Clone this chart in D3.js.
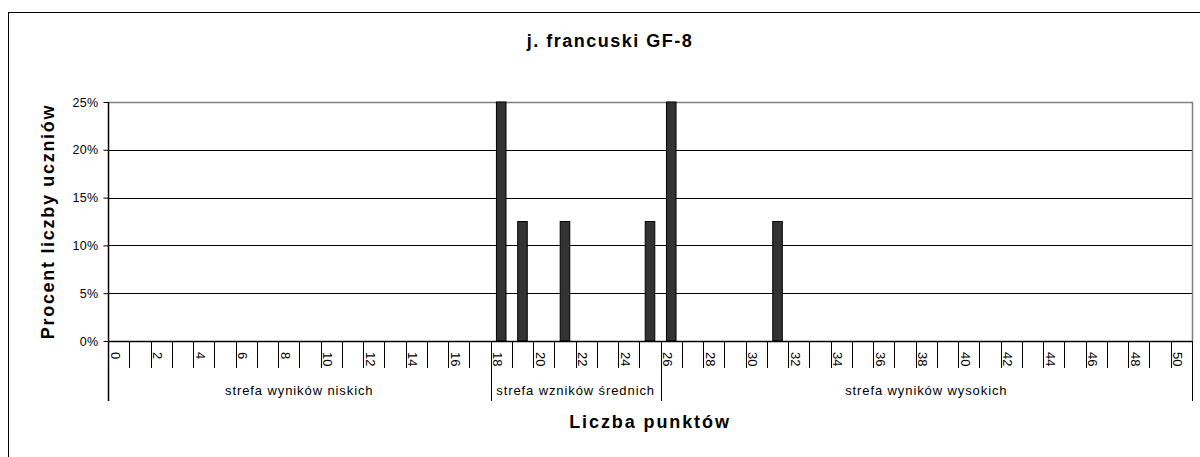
<!DOCTYPE html>
<html>
<head>
<meta charset="utf-8">
<script src="https://cdn.jsdelivr.net/npm/d3@7"></script>
<style>
  body { margin: 0; background: #fff; }
  svg { display: block; font-family: "Liberation Sans", Arial, sans-serif; }
</style>
</head>
<body>
<div id="chart-area"></div>
<script>
// Data
var points = ["0","1","2","3","4","5","6","7","8","9","10","11","12","13","14","15","16","17","18","19",
    "20","21","22","23","24","25","26","27","28","29","30","31","32","33","34","35","36","37","38","39",
    "40","41","42","43","44","45","46","47","48","49","50"];
var percents = [0,0,0,0,0,0,0,0,0,0, 0,0,0,0,0,0,0,0,25,12.5,
    0,12.5,0,0,0,12.5,25,0,0,0, 0,12.5,0,0,0,0,0,0,0,0,
    0,0,0,0,0,0,0,0,0,0, 0];
var yTicks = [0, 5, 10, 15, 20, 25];
var zoneNames = ["strefa wyników niskich", "strefa wzników średnich", "strefa wyników wysokich"];
var zoneStart = ["0", "18", "26"];
var zoneEnd = ["17", "25", "50"];

var width = 1200, height = 457;
var margin = { left: 108, right: 8, top: 102, bottom: 116 };

var svg = d3.select("#chart-area")
    .append("svg")
        .attr("width", width)
        .attr("height", height);

// outer frame
svg.append("rect")
    .attr("x", 8.5)
    .attr("y", 12.5)
    .attr("width", width)
    .attr("height", height)
    .attr("fill", "none")
    .attr("stroke", "#000");

// Scales
var x = d3.scaleBand()
    .domain(points)
    .range([margin.left, width - margin.right])
    .padding(0);
var y = d3.scaleLinear()
    .domain([0, 25])
    .range([height - margin.bottom, margin.top]);

var x0 = margin.left, x1 = width - margin.right;
var yBase = y(0);

// Title
svg.append("text")
    .attr("x", 610)
    .attr("y", 47)
    .attr("text-anchor", "middle")
    .attr("font-size", "18px")
    .attr("font-weight", "bold")
    .attr("letter-spacing", "1.5px")
    .text("j. francuski GF-8");

// Gridlines
svg.append("g").selectAll("line")
    .data(yTicks.filter(function(d){ return d > 0 && d < 25; }))
    .enter().append("line")
        .attr("x1", x0).attr("x2", x1)
        .attr("y1", function(d){ return Math.round(y(d)) + 0.5; })
        .attr("y2", function(d){ return Math.round(y(d)) + 0.5; })
        .attr("stroke", "#000");

// plot border (grey top and right)
svg.append("path")
    .attr("d", "M" + x0 + "," + (y(25) + 0.5) + "H" + (x1 + 0.5) + "V" + yBase)
    .attr("fill", "none")
    .attr("stroke", "#808080")
    .attr("stroke-width", 1.5);

// Bars
var barW = x.bandwidth() * 0.45;
svg.append("g").selectAll("rect")
    .data(percents.map(function(v, i){ return { p: points[i], v: v }; })
        .filter(function(d){ return d.v > 0; }))
    .enter().append("rect")
        .attr("x", function(d){ return x(d.p) + (x.bandwidth() - barW) / 2; })
        .attr("y", function(d){ return y(d.v); })
        .attr("width", barW)
        .attr("height", function(d){ return yBase - y(d.v); })
        .attr("fill", "#333")
        .attr("stroke", "#000")
        .attr("stroke-width", 1);

// Y Axis
var yAxisCall = d3.axisLeft(y)
    .tickValues(yTicks)
    .tickSize(5)
    .tickFormat(function(d){ return d + "%"; });
var yAxis = svg.append("g")
    .attr("transform", "translate(" + (x0 + 0.5) + ",0)")
    .call(yAxisCall);
yAxis.select(".domain").remove();
yAxis.selectAll("line").attr("stroke", "#000");
yAxis.selectAll("text")
    .attr("font-size", "12.5px")
    .attr("letter-spacing", "0.3px")
    .attr("font-family", "Liberation Sans, Arial, sans-serif")
    .attr("fill", "#000")
    .attr("x", -10);

svg.append("line")
    .attr("x1", x0 + 0.5).attr("x2", x0 + 0.5)
    .attr("y1", y(25)).attr("y2", yBase + 60)
    .attr("stroke", "#000")
    .attr("stroke-width", 1.5);

// X axis baseline
svg.append("line")
    .attr("x1", x0).attr("x2", x1)
    .attr("y1", yBase + 0.5).attr("y2", yBase + 0.5)
    .attr("stroke", "#000")
    .attr("stroke-width", 1.5);

// X ticks at category boundaries
var bounds = points.map(function(p){ return x(p); }).concat([x1]);
svg.append("g").selectAll("line")
    .data(bounds)
    .enter().append("line")
        .attr("x1", function(d){ return Math.round(d) + 0.5; })
        .attr("x2", function(d){ return Math.round(d) + 0.5; })
        .attr("y1", yBase)
        .attr("y2", yBase + 27)
        .attr("stroke", "#000");

// X labels (every second)
svg.append("g").selectAll("text")
    .data(points.filter(function(p, i){ return i % 2 == 0; }))
    .enter().append("text")
        .attr("transform", function(d){
            return "translate(" + (x(d) + x.bandwidth() * 0.34) + "," + (yBase + 11) + ") rotate(90)";
        })
        .attr("dy", "0.35em")
        .attr("font-size", "13px")
        .text(function(d){ return d; });

// Zones
zoneNames.forEach(function(name, i){
    var a = x(zoneStart[i]), b = x(zoneEnd[i]) + x.bandwidth();
    [a, b].forEach(function(xx){
        svg.append("line")
            .attr("x1", Math.round(xx) + 0.5).attr("x2", Math.round(xx) + 0.5)
            .attr("y1", yBase).attr("y2", yBase + 60)
            .attr("stroke", "#000");
    });
    svg.append("text")
        .attr("x", (a + b) / 2)
        .attr("y", 395)
        .attr("text-anchor", "middle")
        .attr("font-size", "13px")
        .attr("letter-spacing", "0.9px")
        .text(name);
});

// Axis titles
svg.append("text")
    .attr("x", (x0 + x1) / 2)
    .attr("y", 428)
    .attr("text-anchor", "middle")
    .attr("font-size", "18px")
    .attr("font-weight", "bold")
    .attr("letter-spacing", "1.9px")
    .text("Liczba punktów");

svg.append("text")
    .attr("transform", "translate(54," + ((y(25) + yBase) / 2) + ") rotate(-90)")
    .attr("text-anchor", "middle")
    .attr("font-size", "18px")
    .attr("font-weight", "bold")
    .attr("letter-spacing", "1.7px")
    .text("Procent liczby uczniów");
</script>
</body>
</html>
